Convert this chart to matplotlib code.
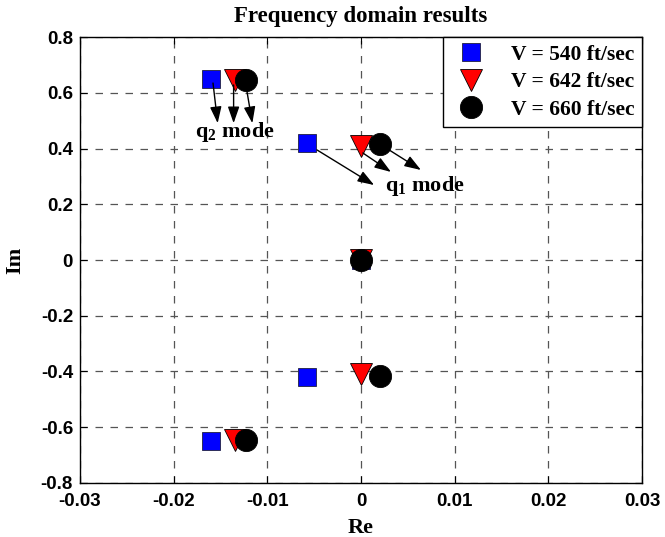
import matplotlib
matplotlib.use("Agg")
import matplotlib.pyplot as plt

plt.rcParams["mathtext.fontset"] = "custom"
plt.rcParams["mathtext.rm"] = "Liberation Serif:bold"
plt.rcParams["mathtext.bf"] = "Liberation Serif:bold"
plt.rcParams["mathtext.it"] = "Liberation Serif:bold"

# ---- data ----
re_540 = [-0.016, -0.0058, 0.0, -0.0058, -0.016]
im_540 = [0.65, 0.42, 0.0, -0.42, -0.65]
re_642 = [-0.0135, 0.0, 0.0, 0.0, -0.0135]
im_642 = [0.645, 0.41, 0.0, -0.41, -0.645]
re_660 = [-0.0123, 0.002, 0.0, 0.002, -0.0123]
im_660 = [0.645, 0.415, 0.0, -0.415, -0.645]
labels = ["V = 540 ft/sec", "V = 642 ft/sec", "V = 660 ft/sec"]
xticks = [-0.03, -0.02, -0.01, 0, 0.01, 0.02, 0.03]
xticklabels = ["-0.03", "-0.02", "-0.01", "0", "0.01", "0.02", "0.03"]
yticks = [-0.8, -0.6, -0.4, -0.2, 0, 0.2, 0.4, 0.6, 0.8]
yticklabels = ["-0.8", "-0.6", "-0.4", "-0.2", "0", "0.2", "0.4", "0.6", "0.8"]

# annotation arrows (start -> end) in data coords
q2_arrows = [((-0.0158, 0.635), (-0.0153, 0.491)),
             ((-0.0136, 0.628), (-0.0136, 0.491)),
             ((-0.0122, 0.61), (-0.0116, 0.491))]
q2_text = (-0.0135, 0.46)
q1_arrows = [((-0.0047, 0.395), (0.0014, 0.269)),
             ((0.0002, 0.384), (0.0032, 0.316)),
             ((0.003, 0.395), (0.0064, 0.323))]
q1_text = (0.0068, 0.265)

serif = ["Liberation Serif", "DejaVu Serif"]
sans = ["Liberation Sans", "DejaVu Sans"]

fig = plt.figure(figsize=(6.65, 5.37), dpi=100)
ax = fig.add_axes([0.1203, 0.1006, 0.8451, 0.8304])

ax.plot(re_540, im_540, ls="none", marker="s", ms=13.5, mfc="#0000ff", mec="#202040", mew=0.6, label=labels[0], zorder=3)
ax.plot(re_642, im_642, ls="none", marker="v", ms=16, mfc="#ff0000", mec="black", mew=0.6, label=labels[1], zorder=4)
ax.plot(re_660, im_660, ls="none", marker="o", ms=16, mfc="black", mec="black", mew=0.6, label=labels[2], zorder=5)

for (s, e) in q2_arrows + q1_arrows:
    ax.annotate("", xy=e, xytext=s,
                arrowprops=dict(arrowstyle="-|>,head_length=1.0,head_width=0.35", color="black", lw=1.0,
                                shrinkA=0, shrinkB=0), zorder=6)

ax.text(q2_text[0], q2_text[1], r"q$_{2}$ mode", ha="center", va="center",
        fontsize=16, fontweight="bold", family=serif)
ax.text(q1_text[0], q1_text[1], r"q$_{1}$ mode", ha="center", va="center",
        fontsize=16, fontweight="bold", family=serif)

ax.set_xlim(-0.03, 0.03)
ax.set_ylim(-0.8, 0.8)
ax.set_xticks(xticks)
ax.set_xticklabels(xticklabels)
ax.set_yticks(yticks)
ax.set_yticklabels(yticklabels)
for lab in ax.get_xticklabels() + ax.get_yticklabels():
    lab.set_fontfamily(sans)
    lab.set_fontweight("bold")
    lab.set_fontsize(13.5)
ax.tick_params(axis="x", direction="in", top=True, length=5, width=0.8, pad=7)
ax.tick_params(axis="y", direction="in", right=True, length=5, width=0.8, pad=5)
ax.grid(True, ls=(0, (6, 6)), color="#555555", lw=0.9)
for sp in ax.spines.values():
    sp.set_linewidth(1.0)

ax.set_xlabel("Re", fontsize=16, fontweight="bold", family=serif, labelpad=6)
ax.set_ylabel("Im", fontsize=16, fontweight="bold", family=serif, labelpad=11)
ax.set_title("Frequency domain results", fontsize=16.5, fontweight="bold", family=serif, pad=11)

leg = ax.legend(loc="upper right", prop=dict(family=serif, weight="bold", size=15.5),
                fancybox=False, edgecolor="black", framealpha=1, borderaxespad=0,
                handletextpad=0.9, labelspacing=0.35, borderpad=0.35, numpoints=1,
                handlelength=1.9)
leg.get_frame().set_linewidth(1.0)

fig.savefig("out.png", dpi=100)
